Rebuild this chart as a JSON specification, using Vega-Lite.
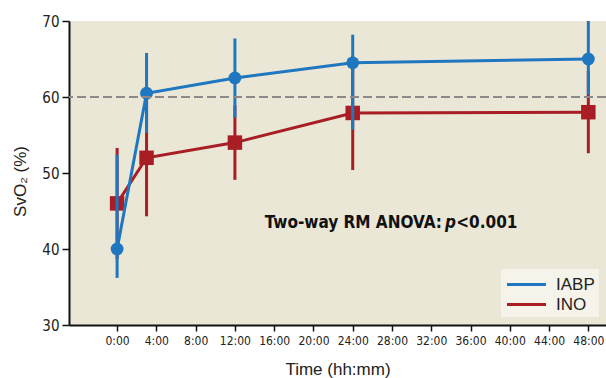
{
  "$schema": "https://vega.github.io/schema/vega-lite/v6.json",
  "width": 537,
  "height": 304,
  "autosize": {"type": "none"},
  "padding": {"left": 69, "top": 21, "right": 0, "bottom": 53},
  "background": "white",
  "config": {
    "view": {"fill": "#ebe7d6", "stroke": null},
    "axis": {"grid": false, "domainColor": "#111111", "domainWidth": 2, "tickColor": "#111111", "tickWidth": 1.5, "labelColor": "#222222", "titleColor": "#222222", "titleFontWeight": "normal"}
  },
  "layer": [
    {
      "data": {"values": [
        {"series": "INO", "time": 0, "mean": 46, "low": 38.7, "high": 53.3},
        {"series": "INO", "time": 3, "mean": 52, "low": 44.3, "high": 59.7},
        {"series": "INO", "time": 12, "mean": 54, "low": 49.1, "high": 58.9},
        {"series": "INO", "time": 24, "mean": 57.9, "low": 50.4, "high": 65.4},
        {"series": "INO", "time": 48, "mean": 58, "low": 52.6, "high": 63.4},
        {"series": "IABP", "time": 0, "mean": 40, "low": 36.2, "high": 52.4},
        {"series": "IABP", "time": 3, "mean": 60.5, "low": 55.3, "high": 65.8},
        {"series": "IABP", "time": 12, "mean": 62.5, "low": 57.3, "high": 67.7},
        {"series": "IABP", "time": 24, "mean": 64.5, "low": 55.7, "high": 68.2},
        {"series": "IABP", "time": 48, "mean": 65, "low": 60.3, "high": 70}
      ]},
      "encoding": {
        "x": {"field": "time", "type": "quantitative",
          "scale": {"domain": [-4.9, 49.8], "nice": false, "zero": false},
          "axis": {"values": [0,4,8,12,16,20,24,28,32,36,40,44,48], "labelExpr": "datum.value + ':00'",
            "title": "Time (hh:mm)", "labelFont": "DejaVu Sans Condensed", "labelFontSize": 12, "labelPadding": 4, "tickSize": 6,
            "titleFont": "Liberation Sans", "titleFontSize": 17, "titlePadding": 15}},
        "y": {"field": "mean", "type": "quantitative",
          "scale": {"domain": [30, 70], "nice": false, "zero": false},
          "axis": {"values": [30,40,50,60,70], "title": "SvO₂ (%)", "labelFont": "DejaVu Sans Condensed", "labelFontSize": 15, "labelPadding": 3, "tickSize": 7,
            "titleFont": "Liberation Sans", "titleFontSize": 17, "titlePadding": 12, "titleY": 160}},
        "color": {"field": "series", "type": "nominal",
          "scale": {"domain": ["IABP", "INO"], "range": ["#1f77c0", "#a81e24"]},
          "legend": {"title": null, "orient": "none", "legendX": 432, "legendY": 248, "fillColor": "#f5f3ea", "padding": 4,
            "symbolType": "M-2,0H2", "symbolSize": 380, "symbolStrokeWidth": 3, "symbolOffset": 10, "rowPadding": 0,
            "labelFont": "Liberation Sans", "labelFontSize": 17, "labelColor": "#222222", "labelOffset": 18}}
      },
      "layer": [
        {"transform": [{"filter": "datum.series === 'INO'"}], "mark": {"type": "rule", "strokeWidth": 3}, "encoding": {"y": {"field": "low", "type": "quantitative"}, "y2": {"field": "high"}}},
        {"transform": [{"filter": "datum.series === 'INO'"}], "mark": {"type": "line", "strokeWidth": 3}},
        {"transform": [{"filter": "datum.series === 'INO'"}], "mark": {"type": "point", "shape": "square", "filled": true, "size": 210, "opacity": 1}},
        {"transform": [{"filter": "datum.series === 'IABP'"}], "mark": {"type": "rule", "strokeWidth": 3}, "encoding": {"y": {"field": "low", "type": "quantitative"}, "y2": {"field": "high"}}},
        {"transform": [{"filter": "datum.series === 'IABP'"}], "mark": {"type": "line", "strokeWidth": 3}},
        {"transform": [{"filter": "datum.series === 'IABP'"}], "mark": {"type": "point", "shape": "circle", "filled": true, "size": 165, "opacity": 1}}
      ]
    },
    {"data": {"values": [{"ref": 60}]}, "mark": {"type": "rule", "color": "#8a8a8a", "strokeWidth": 2, "strokeDash": [9, 4]}, "encoding": {"y": {"field": "ref", "type": "quantitative"}}},
    {"data": {"values": [{"label": "Two-way RM ANOVA:"}]}, "mark": {"type": "text", "font": "DejaVu Sans Condensed", "fontWeight": "bold", "fontSize": 17, "align": "right", "baseline": "middle", "color": "#111111", "dx": -3},
      "encoding": {"text": {"field": "label"}, "x": {"datum": 33.4}, "y": {"datum": 43.4}}},
    {"data": {"values": [{"label": "p"}]}, "mark": {"type": "text", "font": "DejaVu Sans Condensed", "fontWeight": "bold", "fontStyle": "italic", "fontSize": 17, "align": "left", "baseline": "middle", "color": "#111111"},
      "encoding": {"text": {"field": "label"}, "x": {"datum": 33.4}, "y": {"datum": 43.4}}},
    {"data": {"values": [{"label": "<0.001"}]}, "mark": {"type": "text", "font": "DejaVu Sans Condensed", "fontWeight": "bold", "fontSize": 17, "align": "left", "baseline": "middle", "color": "#111111"},
      "encoding": {"text": {"field": "label"}, "x": {"datum": 34.55}, "y": {"datum": 43.4}}}
  ]
}
